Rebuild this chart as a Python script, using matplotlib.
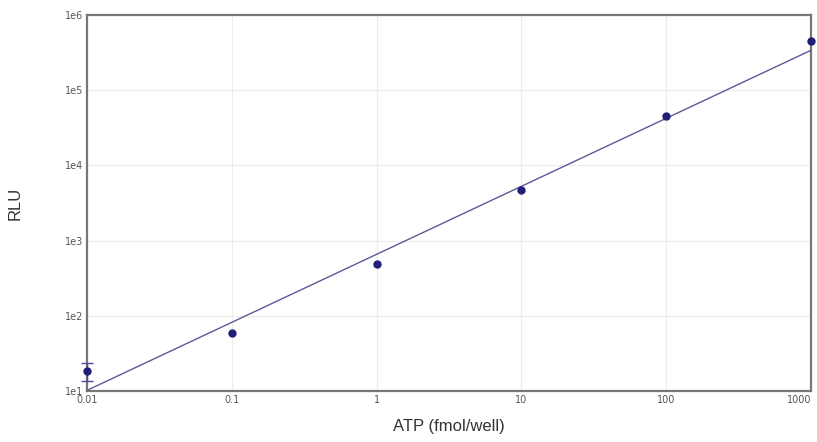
import matplotlib
matplotlib.use("Agg")
import matplotlib.pyplot as plt

# measured points (ATP fmol/well vs RLU)
atp = [0.01, 0.1, 1, 10, 100, 1000]
rlu = [18.5, 59, 490, 4700, 45000, 450000]
# only the lowest standard shows a visible error bar
err_x = [0.01]
err_y = [18.5]
err_lo = [4.9]
err_hi = [5.1]

# linear fit in log-log space, endpoints
fit_x = [0.01, 1000]
fit_y = [10.2, 340000]

xticks = [0.01, 0.1, 1, 10, 100, 1000]
xlabels = ["0.01", "0.1", "1", "10", "100", "1000"]
yticks = [1e1, 1e2, 1e3, 1e4, 1e5, 1e6]
ylabels = ["1e1", "1e2", "1e3", "1e4", "1e5", "1e6"]

NAVY = "#1f1f7a"

fig = plt.figure(figsize=(8.17, 4.42), dpi=100)
ax = fig.add_axes([0.1065, 0.1154, 0.8862, 0.8506])
ax.set_xscale("log"); ax.set_yscale("log")
ax.set_xlim(0.01, 1000); ax.set_ylim(10, 1e6)

ax.plot(fit_x, fit_y, color="#5a5a9a", lw=1.0, zorder=3)
ax.errorbar(err_x, err_y, yerr=[err_lo, err_hi], fmt="none",
            ecolor="#4a4aa0", elinewidth=1, capsize=4, capthick=1, zorder=4,
            clip_on=False)
ax.plot(atp, rlu, "o", color=NAVY, ms=5, zorder=5, clip_on=False)

ax.set_xticks(xticks); ax.set_xticklabels(xlabels)
ax.set_yticks(yticks); ax.set_yticklabels(ylabels)
ax.get_xticklabels()[-1].set_horizontalalignment("right")
ax.minorticks_off()
ax.tick_params(length=0, labelsize=7, colors="#555555", pad=3)
ax.grid(True, color="#ececec", lw=0.8)
for s in ax.spines.values():
    s.set_color("#777777"); s.set_linewidth(1.6)

ax.set_xlabel("ATP (fmol/well)", fontsize=12, color="#333333", labelpad=10,
              family="Liberation Sans")
ax.set_ylabel("RLU", fontsize=12, color="#333333", labelpad=30,
              family="Liberation Sans")

fig.savefig("out.png", dpi=100)
